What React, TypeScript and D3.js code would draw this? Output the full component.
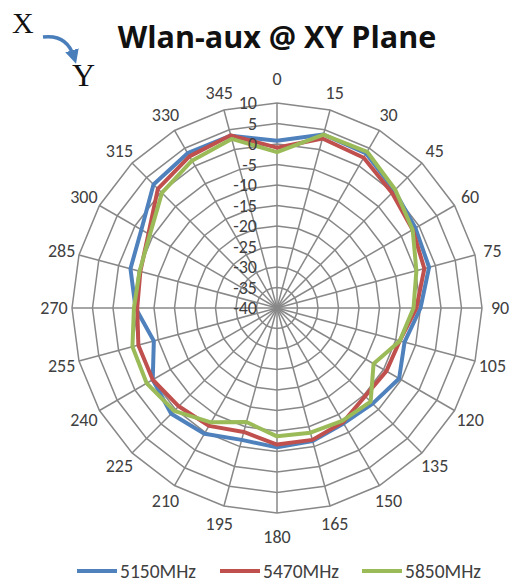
import React from "react";
import * as d3 from "d3";

const angles = ["0","15","30","45","60","75","90","105","120","135","150","165","180","195","210","225","240","255","270","285","300","315","330","345"];
const radialTicks = [-40,-35,-30,-25,-20,-15,-10,-5,0,5,10];
const seriesNames = ["5150MHz","5470MHz","5850MHz"];
const colors = ["#4F81BD","#C0504D","#9BBB59"];
const s5150 = [0.8,3.8,3.5,0.5,-1,-1.6,-5,-7.8,-5.6,-7,-7.5,-6.4,-6,-6.7,-4.6,-3.5,-5,-8.9,-5.5,-3,-1.8,2.6,3.6,3.5];
const s5470 = [-0.9,2.8,2.3,-0.3,-1.8,-2.8,-6,-9,-9.2,-9.6,-7.8,-6.7,-6.7,-8.7,-6.8,-6.1,-5,-5,-5.9,-5.5,-3.8,1.1,2.7,3.6];
const s5850 = [-2,3.8,4,0.8,-1.8,-4.8,-6.7,-9,-12.8,-7.7,-8.2,-8.5,-8.7,-11.2,-7.8,-4.5,-3.3,-3.5,-5.1,-5.3,-4.2,-0.3,1.5,2.7];
const seriesData = [s5150, s5470, s5850];

const W = 513, H = 583;
const cx = 277, cy = 308, R = 205;
const FONT = "Calibri, Carlito, Lato, 'Open Sans', sans-serif";

export default function App() {
  const r = d3.scaleLinear().domain([-40, 10]).range([0, R]);
  const a = d3.scaleLinear().domain([0, angles.length]).range([0, 2 * Math.PI]);
  const idx = angles.map((_, i) => i);

  const ringLine = d3.lineRadial<number>()
    .angle((i) => a(i))
    .curve(d3.curveLinearClosed);

  const dataLine = (vals: number[]) =>
    d3.lineRadial<number>()
      .angle((_, i) => a(i))
      .radius((v) => r(v))
      .curve(d3.curveLinearClosed)(vals);

  const legendX = [77, 220, 362];

  return (
    <svg width={W} height={H} style={{ position: "absolute", left: 0, top: 0, background: "#fff" }} fontFamily={FONT}>
      <defs>
        <marker id="ah" viewBox="0 0 10 10" refX="5" refY="5" markerWidth="4" markerHeight="4" orient="auto">
          <path d="M0,0 L10,5 L0,10 z" fill="#4A7EBB" />
        </marker>
      </defs>
      {/* XY decoration */}
      <text x={12} y={33} fontFamily="'Liberation Serif', 'DejaVu Serif', serif" fontSize={30} fill="#111">X</text>
      <text x={72} y={86} fontFamily="'Liberation Serif', 'DejaVu Serif', serif" fontSize={32} fill="#111">Y</text>
      <path d="M43,37 Q67,34 74,57" fill="none" stroke="#4A7EBB" strokeWidth={3.5} markerEnd="url(#ah)" />
      {/* title */}
      <text x={277} y={48} textAnchor="middle" fontSize={30.5} fontWeight="bold" fontFamily="'Open Sans', Lato, sans-serif" fill="#111">Wlan-aux @ XY Plane</text>

      <g transform={`translate(${cx},${cy})`}>
        {radialTicks.slice(1).map((t) => (
          <path key={t} d={ringLine.radius(r(t))(idx) || ""} fill="none" stroke="#888" strokeWidth={1.5} />
        ))}
        {idx.map((i) => {
          const ang = a(i);
          return (
            <line key={i} x1={0} y1={0} x2={R * Math.sin(ang)} y2={-R * Math.cos(ang)} stroke="#888" strokeWidth={1.5} />
          );
        })}
        {seriesData.map((vals, k) => (
          <path key={k} d={dataLine(vals) || ""} fill="none" stroke={colors[k]} strokeWidth={4} strokeLinejoin="round" />
        ))}
        {radialTicks.map((t) => (
          <text key={t} x={-20} y={-r(t)} dy="0.35em" textAnchor="end" fontSize={18} fill="#404040">{t}</text>
        ))}
        {angles.map((lab, i) => {
          const ang = a(i);
          const c = Math.cos(ang), s = Math.sin(ang);
          const d = R + 18 + (Math.abs(c) > 0.99 ? 6 : 0);
          return (
            <text key={lab} x={d * s} y={-d * c} dy="0.35em" textAnchor="middle" fontSize={18} fill="#404040">{lab}</text>
          );
        })}
      </g>

      {seriesNames.map((n, k) => (
        <g key={n} transform={`translate(${legendX[k]},571)`}>
          <line x1={0} x2={40} y1={0} y2={0} stroke={colors[k]} strokeWidth={4} />
          <text x={43} y={0} dy="0.35em" fontSize={19.5} fill="#404040">{n}</text>
        </g>
      ))}
    </svg>
  );
}
